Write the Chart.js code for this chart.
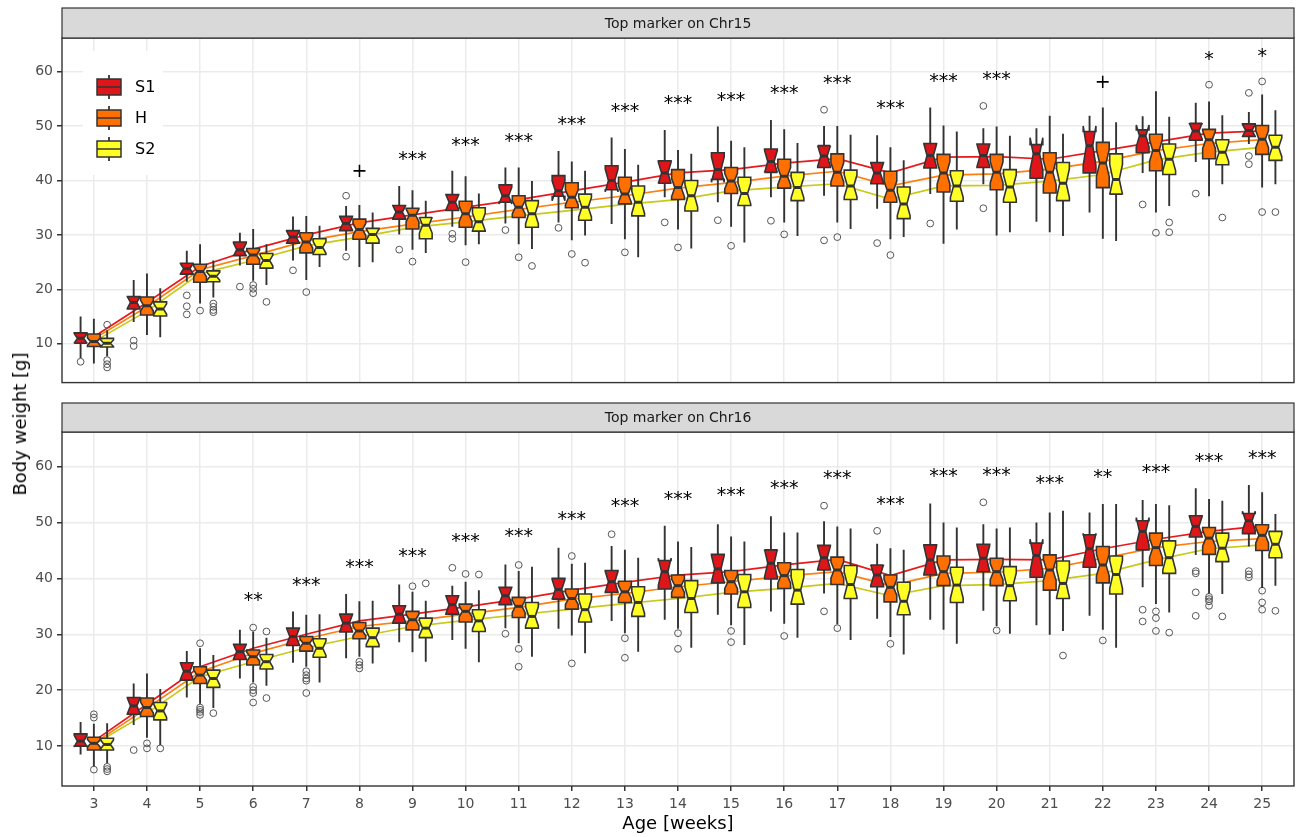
<!DOCTYPE html>
<html>
<head>
<meta charset="utf-8">
<title>Body weight by top marker</title>
<script src="https://cdn.jsdelivr.net/npm/chart.js@4.4.1/dist/chart.umd.min.js"></script>
<style>
  html, body { margin: 0; padding: 0; background: #fff; }
  #wrap { position: relative; width: 1300px; height: 837px; overflow: hidden; }
  canvas { position: absolute; left: 0; }
  #chr15Chart { top: 0; }
  #chr16Chart { top: 395px; }
  .axis-title { position: absolute; font: 18px "DejaVu Sans", sans-serif; line-height: 1; color: #000; white-space: nowrap; }
  #yTitle { left: 20px; top: 424px; transform: translate(-50%, -50%) rotate(-90deg); }
  #xTitle { left: 678px; top: 823px; transform: translate(-50%, -50%); }
</style>
</head>
<body>
<div id="wrap">
  <canvas id="chr15Chart" width="1300" height="395"></canvas>
  <canvas id="chr16Chart" width="1300" height="442"></canvas>
  <div class="axis-title" id="yTitle">Body weight [g]</div>
  <div class="axis-title" id="xTitle">Age [weeks]</div>
</div>
<script>
const weeks = [3, 4, 5, 6, 7, 8, 9, 10, 11, 12, 13, 14, 15, 16, 17, 18, 19, 20, 21, 22, 23, 24, 25];
const yTicks = [10, 20, 30, 40, 50, 60];
const groupNames = ['S1', 'H', 'S2'];

// box stats per week: [lower whisker, Q1, median, Q3, upper whisker]
const chr15S1Box = [
  [7.4, 10.1, 11.0, 12.0, 15.0], [14.0, 16.4, 17.6, 18.7, 21.7], [21.4, 22.8, 23.8, 24.8, 27.1],
  [24.4, 26.2, 27.3, 28.7, 30.4], [25.3, 28.5, 29.6, 30.8, 33.4], [27.1, 30.8, 32.1, 33.4, 35.3],
  [30.1, 32.9, 34.2, 35.4, 39.0], [31.5, 34.5, 36.0, 37.4, 41.8], [32.1, 36.0, 37.2, 39.2, 42.4],
  [32.3, 37.1, 38.1, 40.9, 45.4], [32.0, 38.3, 40.0, 42.7, 47.9], [36.9, 39.5, 41.4, 43.6, 49.3],
  [36.0, 40.2, 42.0, 45.1, 49.9], [36.9, 41.5, 43.5, 45.8, 51.1], [37.2, 42.4, 44.5, 46.4, 50.0],
  [34.8, 39.4, 41.4, 43.3, 48.3], [37.5, 42.3, 44.6, 46.8, 53.4], [39.3, 42.4, 44.6, 46.7, 49.6],
  [32.4, 40.4, 44.9, 46.6, 49.6], [34.1, 41.4, 46.4, 49.0, 51.9], [41.4, 45.1, 48.2, 49.3, 51.8],
  [43.4, 47.4, 49.1, 50.5, 54.3], [46.7, 48.1, 49.2, 50.4, 52.6]
];
const chr15HBox = [
  [6.4, 9.5, 10.4, 11.8, 14.6], [11.6, 15.3, 17.0, 18.6, 22.9], [17.4, 21.3, 23.3, 24.6, 28.3],
  [21.6, 24.6, 26.3, 27.5, 31.1], [21.7, 26.7, 28.7, 30.4, 33.5], [24.1, 29.2, 31.0, 32.9, 35.5],
  [27.3, 31.1, 33.6, 34.9, 38.2], [28.1, 31.4, 33.9, 36.2, 40.8], [28.3, 33.2, 35.1, 37.2, 42.4],
  [29.0, 35.0, 36.9, 39.6, 43.5], [29.2, 35.7, 37.5, 40.6, 45.8], [31.0, 36.5, 38.7, 42.0, 45.6],
  [31.5, 37.6, 39.9, 42.4, 47.3], [32.3, 38.6, 40.8, 43.9, 49.4], [32.3, 39.0, 41.5, 44.9, 50.0],
  [29.2, 36.0, 38.2, 41.7, 46.1], [28.4, 37.9, 41.4, 44.8, 50.1], [29.9, 38.3, 41.5, 44.8, 49.9],
  [30.5, 37.7, 41.5, 45.1, 51.9], [29.3, 38.7, 43.2, 47.0, 53.4], [34.1, 41.8, 45.5, 48.5, 56.4],
  [37.1, 44.0, 47.5, 49.4, 54.5], [38.7, 44.8, 47.6, 50.1, 55.8]
];
const chr15S2Box = [
  [7.7, 9.4, 10.1, 11.0, 12.5], [11.2, 15.1, 16.4, 17.7, 20.2], [18.5, 21.4, 22.4, 23.4, 25.3],
  [20.8, 23.9, 25.3, 26.6, 28.3], [24.1, 26.4, 27.7, 29.3, 31.7], [25.0, 28.5, 30.1, 31.2, 34.1],
  [26.7, 29.3, 31.8, 33.2, 36.3], [28.3, 30.7, 32.4, 35.0, 37.6], [27.4, 31.4, 33.9, 36.3, 39.9],
  [29.9, 32.7, 35.1, 37.5, 41.8], [25.9, 33.5, 36.0, 39.0, 42.9], [27.5, 34.4, 37.2, 40.0, 44.9],
  [28.6, 35.4, 37.6, 40.6, 46.1], [29.8, 36.3, 38.7, 41.5, 46.9], [31.1, 36.5, 39.0, 41.9, 48.4],
  [29.6, 33.0, 35.7, 38.8, 43.7], [31.0, 36.2, 39.0, 41.8, 49.0], [30.5, 36.0, 38.8, 42.0, 48.2],
  [29.8, 36.3, 39.5, 43.3, 48.6], [28.9, 37.5, 40.2, 44.9, 50.7], [35.3, 41.1, 43.9, 46.7, 51.7],
  [39.3, 42.9, 45.2, 47.5, 52.0], [39.3, 43.7, 46.1, 48.3, 52.9]
];
const chr15S1Out = [[6.7], [10.6, 9.6], [18.9, 16.9, 15.4], [20.5], [23.5], [37.2, 26.0], [27.3], [30.2, 29.3], [30.9], [31.3], [], [32.3], [32.7], [32.6], [53.0, 29.0], [28.5], [32.1], [53.7, 34.9], [], [], [35.6], [37.6], [56.1, 44.5, 43.0]];
const chr15HOut = [[], [], [16.1], [20.8, 20.1, 19.3], [19.5], [], [25.1], [25.0], [25.9], [26.5], [26.8], [27.7], [28.0], [30.1], [29.6], [26.3], [], [], [], [], [30.4], [57.6], [58.2, 34.2]];
const chr15S2Out = [[13.5, 7.0, 6.25, 5.65], [], [17.4, 16.8, 16.2, 15.8], [17.7], [], [], [], [], [24.3], [24.9], [], [], [], [], [], [], [], [], [], [], [32.3, 30.5], [33.2], [34.2]];
const chr15S1Mean = [11.3, 17.6, 24.2, 27.4, 30.0, 32.2, 33.7, 35.1, 36.5, 38.1, 39.7, 41.4, 42.0, 43.2, 44.0, 41.4, 44.3, 44.4, 43.9, 45.5, 47.1, 48.7, 49.1];
const chr15HMean = [10.9, 16.8, 23.6, 26.2, 28.9, 30.6, 32.0, 33.3, 34.7, 36.0, 37.2, 38.6, 39.6, 40.8, 41.7, 39.0, 41.0, 41.2, 42.1, 43.5, 45.5, 46.8, 47.5];
const chr15S2Mean = [10.4, 16.0, 22.9, 25.3, 28.0, 29.6, 31.4, 32.4, 33.5, 34.5, 35.6, 36.5, 38.1, 38.8, 39.4, 36.6, 39.0, 39.1, 39.9, 41.1, 43.8, 45.2, 46.1];
const chr15N = [11, 28, 18];
const chr15Marks = ['', '', '', '', '', '+', '***', '***', '***', '***', '***', '***', '***', '***', '***', '***', '***', '***', '', '+', '', '*', '*'];
const chr15MarkY = [null, null, null, null, null, 41.9, 44.8, 47.4, 48.2, 51.2, 53.7, 55.1, 55.6, 56.9, 58.7, 54.2, 59.2, 59.5, null, 58.2, null, 63.2, 63.8];

const chr16S1Box = [
  [8.5, 10.0, 10.9, 12.2, 14.3], [13.8, 15.7, 17.2, 18.7, 21.2], [18.7, 21.8, 23.4, 24.9, 27.0],
  [22.1, 25.5, 26.9, 28.2, 30.8], [24.9, 28.0, 29.6, 31.1, 34.1], [25.7, 30.4, 32.0, 33.6, 37.2],
  [28.6, 32.0, 33.6, 35.1, 38.9], [29.0, 33.6, 35.3, 36.9, 38.7], [31.1, 35.3, 36.9, 38.4, 42.5],
  [31.0, 36.3, 38.0, 40.0, 45.5], [32.4, 37.5, 39.4, 41.4, 45.8], [32.6, 38.1, 41.2, 43.2, 49.4],
  [33.5, 39.2, 41.7, 44.3, 49.7], [34.1, 39.9, 42.7, 45.1, 51.1], [37.3, 41.5, 43.7, 45.9, 50.2],
  [32.8, 38.5, 40.6, 42.4, 46.2], [32.6, 40.6, 43.3, 46.0, 53.4], [34.2, 41.2, 43.6, 46.1, 49.7],
  [31.6, 40.2, 44.1, 46.3, 50.0], [33.3, 42.0, 45.3, 47.8, 51.8], [38.4, 45.1, 48.4, 50.3, 54.0],
  [44.2, 47.4, 49.3, 51.2, 56.1], [45.7, 48.0, 50.3, 51.6, 56.7]
];
const chr16HBox = [
  [6.4, 9.3, 10.5, 11.6, 14.0], [11.5, 15.3, 16.9, 18.6, 23.0], [17.6, 21.2, 22.7, 24.2, 27.5],
  [21.4, 24.5, 26.0, 27.2, 30.5], [24.2, 27.0, 28.4, 29.6, 33.5], [26.0, 29.2, 30.6, 32.1, 35.9],
  [26.8, 30.8, 32.6, 34.1, 37.6], [27.4, 32.2, 34.1, 35.4, 39.4], [28.4, 33.0, 35.0, 36.6, 41.3],
  [29.8, 34.5, 36.4, 38.1, 42.6], [30.2, 35.7, 37.6, 39.5, 45.1], [31.0, 36.6, 38.7, 40.6, 46.6],
  [31.6, 37.2, 39.4, 41.4, 47.5], [31.9, 38.2, 40.5, 42.8, 48.2], [31.8, 38.9, 41.5, 43.8, 49.3],
  [29.5, 35.8, 38.4, 40.6, 45.4], [30.8, 38.7, 41.2, 44.0, 50.0], [31.5, 38.7, 41.2, 43.6, 48.9],
  [29.9, 37.9, 41.5, 44.2, 51.8], [30.8, 39.2, 42.4, 45.7, 53.3], [35.4, 42.3, 45.5, 48.1, 53.3],
  [37.3, 44.3, 47.2, 49.1, 54.2], [38.3, 45.0, 47.7, 49.6, 55.4]
];
const chr16S2Box = [
  [7.0, 9.3, 10.3, 11.4, 14.1], [10.2, 14.7, 16.3, 17.8, 20.2], [16.8, 20.5, 22.1, 23.6, 26.3],
  [20.8, 23.8, 25.1, 26.4, 29.4], [21.4, 25.9, 27.5, 29.2, 33.6], [24.8, 27.8, 29.4, 31.1, 36.0],
  [25.1, 29.4, 31.1, 32.9, 36.0], [25.0, 30.5, 32.4, 34.4, 37.9], [26.0, 31.1, 33.2, 35.7, 42.1],
  [26.6, 32.2, 34.4, 37.2, 42.8], [26.9, 33.2, 35.7, 38.5, 43.7], [27.6, 33.9, 36.4, 39.6, 45.6],
  [28.1, 34.8, 37.6, 40.7, 46.6], [29.4, 35.4, 37.9, 41.6, 48.2], [29.0, 36.4, 38.9, 42.3, 48.9],
  [26.4, 33.5, 35.9, 39.3, 45.1], [28.3, 35.7, 38.8, 42.0, 49.1], [30.1, 36.0, 38.7, 42.1, 49.1],
  [30.6, 36.4, 39.1, 43.1, 52.1], [27.6, 37.2, 40.7, 44.0, 53.3], [33.9, 40.9, 43.7, 46.7, 53.1],
  [37.2, 43.0, 45.4, 48.1, 53.9], [38.7, 43.7, 46.1, 48.4, 51.5]
];
const chr16S1Out = [[], [9.3], [], [], [], [], [], [41.9], [30.1], [], [47.9], [], [], [], [53.0, 34.1], [48.5], [], [53.6], [], [], [34.4, 32.3], [41.3, 40.9, 37.5, 33.3], [41.3, 40.7, 40.2]];
const chr16HOut = [[15.7, 15.1, 5.8], [10.5, 9.6], [28.4, 16.9, 16.5, 16.1, 15.6], [31.2, 20.6, 20.0, 19.5, 17.8], [23.4, 22.7, 22.1, 21.7, 19.5], [25.1, 24.5, 23.9], [38.6], [40.8], [42.4, 27.4, 24.2], [44.0, 24.8], [29.3, 25.8], [30.2, 27.4], [30.6, 28.6], [29.7], [31.1], [28.3], [], [30.7], [], [28.9], [34.1, 32.9, 30.6], [36.7, 36.3, 35.9, 35.1], [37.8, 35.7, 34.4]];
const chr16S2Out = [[6.3, 5.9, 5.5], [9.6], [15.9], [30.5, 18.6], [], [], [39.1], [40.7], [], [], [], [], [], [], [], [], [], [], [26.2], [], [30.3], [33.2], [34.2]];
const chr16S1Mean = [10.9, 17.5, 24.2, 27.5, 30.0, 32.4, 33.6, 34.9, 36.3, 37.9, 39.3, 40.6, 41.2, 42.4, 43.4, 40.5, 43.3, 43.4, 43.3, 45.3, 47.0, 48.4, 49.4];
const chr16HMean = [10.5, 16.8, 23.3, 26.6, 29.2, 31.4, 32.4, 33.6, 34.8, 36.3, 37.3, 38.5, 39.4, 40.4, 41.2, 38.7, 40.9, 41.1, 41.8, 43.6, 45.5, 46.6, 47.1];
const chr16S2Mean = [10.3, 15.9, 22.4, 25.1, 27.6, 29.6, 31.4, 32.5, 33.5, 34.5, 35.5, 36.4, 37.5, 38.2, 39.1, 36.9, 38.7, 38.9, 39.6, 40.9, 43.3, 45.3, 46.0];
const chr16N = [11, 28, 18];
const chr16Marks = ['', '', '', '**', '***', '***', '***', '***', '***', '***', '***', '***', '***', '***', '***', '***', '***', '***', '***', '**', '***', '***', '***'];
const chr16MarkY = [null, null, null, 36.9, 39.7, 42.9, 44.9, 47.6, 48.4, 51.4, 53.7, 55.1, 55.7, 57.0, 58.7, 54.2, 59.1, 59.4, 57.9, 59.0, 59.9, 61.9, 62.3];

// styling
const boxFills = ['#DE1619', '#FF7000', '#FFFF26'];
const lineColors = ['#E8191C', '#FF7F0E', '#C9C918'];
const dodge = [-0.25, 0, 0.25];
const boxHalfWidth = 0.12;
const edgeColor = '#333333';
const fontFamily = '"DejaVu Sans", sans-serif';

const panels = {
  chr15Chart: {
    strip: 'Top marker on Chr15', showLegend: true, showXLabels: false,
    boxes: [chr15S1Box, chr15HBox, chr15S2Box], outliers: [chr15S1Out, chr15HOut, chr15S2Out],
    means: [chr15S1Mean, chr15HMean, chr15S2Mean], n: chr15N, marks: chr15Marks, markY: chr15MarkY
  },
  chr16Chart: {
    strip: 'Top marker on Chr16', showLegend: false, showXLabels: true,
    boxes: [chr16S1Box, chr16HBox, chr16S2Box], outliers: [chr16S1Out, chr16HOut, chr16S2Out],
    means: [chr16S1Mean, chr16HMean, chr16S2Mean], n: chr16N, marks: chr16Marks, markY: chr16MarkY
  }
};

function drawBox(ctx, xs, ys, xc, stats, n, fill) {
  const [lo, q1, med, q3, hi] = stats;
  const notch = 1.58 * (q3 - q1) / Math.sqrt(n);
  const xl = xs.getPixelForValue(xc - boxHalfWidth);
  const xr = xs.getPixelForValue(xc + boxHalfWidth);
  const xm = xs.getPixelForValue(xc);
  const inset = (xr - xl) / 4;
  const py = v => ys.getPixelForValue(v);

  ctx.strokeStyle = edgeColor;
  ctx.lineWidth = 1.9;
  ctx.beginPath();
  ctx.moveTo(xm, py(q3)); ctx.lineTo(xm, py(hi));
  ctx.moveTo(xm, py(q1)); ctx.lineTo(xm, py(lo));
  ctx.stroke();

  ctx.beginPath();
  ctx.moveTo(xl, py(q3));
  ctx.lineTo(xl, py(med + notch));
  ctx.lineTo(xl + inset, py(med));
  ctx.lineTo(xl, py(med - notch));
  ctx.lineTo(xl, py(q1));
  ctx.lineTo(xr, py(q1));
  ctx.lineTo(xr, py(med - notch));
  ctx.lineTo(xr - inset, py(med));
  ctx.lineTo(xr, py(med + notch));
  ctx.lineTo(xr, py(q3));
  ctx.closePath();
  ctx.fillStyle = fill;
  ctx.fill();
  ctx.lineWidth = 1.6;
  ctx.stroke();

  ctx.lineWidth = 3;
  ctx.beginPath();
  ctx.moveTo(xl + inset, py(med));
  ctx.lineTo(xr - inset, py(med));
  ctx.stroke();
}

function drawLegend(ctx) {
  ctx.fillStyle = '#fff';
  ctx.fillRect(83, 51, 80, 124);
  const keyTops = [79, 110, 141];
  keyTops.forEach((top, g) => {
    ctx.strokeStyle = edgeColor;
    ctx.lineWidth = 1.8;
    ctx.beginPath();
    ctx.moveTo(109, top - 4); ctx.lineTo(109, top + 20);
    ctx.stroke();
    ctx.fillStyle = boxFills[g];
    ctx.fillRect(97, top, 24, 16);
    ctx.lineWidth = 1.5;
    ctx.strokeRect(97, top, 24, 16);
    ctx.beginPath();
    ctx.moveTo(97, top + 8); ctx.lineTo(121, top + 8);
    ctx.stroke();
    ctx.fillStyle = '#000';
    ctx.font = '16px ' + fontFamily;
    ctx.textAlign = 'left';
    ctx.textBaseline = 'middle';
    ctx.fillText(groupNames[g], 135, top + 9);
  });
}

const facetPlugin = {
  id: 'facetBoxes',
  afterDraw(chart) {
    const panel = panels[chart.canvas.id];
    const { ctx, chartArea } = chart;
    ctx.save();
    ctx.fillStyle = '#D9D9D9';
    ctx.fillRect(chartArea.left, 8, chartArea.right - chartArea.left, chartArea.top - 8);
    ctx.strokeStyle = edgeColor;
    ctx.lineWidth = 1.2;
    ctx.strokeRect(chartArea.left, 8, chartArea.right - chartArea.left, chartArea.top - 8);
    ctx.fillStyle = '#1A1A1A';
    ctx.font = '14px ' + fontFamily;
    ctx.textAlign = 'center';
    ctx.textBaseline = 'middle';
    ctx.fillText(panel.strip, (chartArea.left + chartArea.right) / 2, (8 + chartArea.top) / 2 + 1);
    ctx.restore();
  },
  afterDatasetsDraw(chart) {
    const panel = panels[chart.canvas.id];
    const { ctx, chartArea } = chart;
    const xs = chart.scales.x, ys = chart.scales.y;
    ctx.save();
    ctx.beginPath();
    ctx.rect(chartArea.left, chartArea.top, chartArea.right - chartArea.left, chartArea.bottom - chartArea.top);
    ctx.clip();
    ctx.lineJoin = 'miter';
    ctx.miterLimit = 3;
    weeks.forEach((w, i) => {
      panel.boxes.forEach((series, g) => {
        drawBox(ctx, xs, ys, w + dodge[g], series[i], panel.n[g], boxFills[g]);
      });
    });
    ctx.fillStyle = '#000';
    ctx.font = '19px ' + fontFamily;
    ctx.textAlign = 'center';
    ctx.textBaseline = 'alphabetic';
    weeks.forEach((w, i) => {
      const txt = panel.marks[i];
      if (!txt) return;
      const lift = txt === '+' ? 0.34 : 0.56;
      ctx.fillText(txt, xs.getPixelForValue(w), ys.getPixelForValue(panel.markY[i]) + lift * 19);
    });
    if (panel.showLegend) drawLegend(ctx);
    ctx.restore();

    ctx.save();
    ctx.strokeStyle = edgeColor;
    ctx.lineWidth = 1.4;
    ctx.strokeRect(chartArea.left, chartArea.top, chartArea.right - chartArea.left, chartArea.bottom - chartArea.top);
    ctx.restore();
  }
};

function makeChart(id) {
  const panel = panels[id];
  const meanSets = panel.means.map((vals, g) => ({
    type: 'scatter',
    label: groupNames[g] + ' mean',
    data: weeks.map((w, i) => ({ x: w, y: vals[i] })),
    showLine: true,
    borderColor: lineColors[g],
    borderWidth: 1.7,
    pointRadius: 0,
    fill: false,
    order: 3
  }));
  const outlierPoints = [];
  panel.outliers.forEach((series, g) => {
    series.forEach((vals, i) => {
      vals.forEach(v => outlierPoints.push({ x: weeks[i] + dodge[g], y: v }));
    });
  });
  const outlierSet = {
    type: 'scatter',
    label: 'outliers',
    data: outlierPoints,
    pointRadius: 3.4,
    pointBorderWidth: 1,
    pointBorderColor: '#555555',
    pointBackgroundColor: 'rgba(255,255,255,0)',
    order: 1
  };

  return new Chart(document.getElementById(id), {
    type: 'scatter',
    data: { datasets: [...meanSets, outlierSet] },
    options: {
      responsive: false,
      animation: false,
      events: [],
      layout: {
        padding: panel.showXLabels
          ? { top: 37, right: 6, bottom: 0, left: 0 }
          : { top: 38, right: 6, bottom: 4, left: 0 }
      },
      plugins: { legend: { display: false }, tooltip: { enabled: false } },
      scales: {
        x: {
          type: 'linear',
          min: 2.4,
          max: 25.6,
          afterBuildTicks: s => { s.ticks = weeks.map(v => ({ value: v })); },
          afterFit: s => { s.height = panel.showXLabels ? 51 : 0; },
          border: { display: false },
          grid: { color: '#EBEBEB', lineWidth: 1.5, drawTicks: panel.showXLabels, tickLength: 5, tickColor: edgeColor },
          ticks: { display: panel.showXLabels, color: '#4D4D4D', padding: 5, font: { size: 14, family: fontFamily } }
        },
        y: {
          min: 2.87,
          max: 66.18,
          afterBuildTicks: s => { s.ticks = yTicks.map(v => ({ value: v })); },
          afterFit: s => { s.width = 62; },
          border: { display: false },
          grid: { color: '#EBEBEB', lineWidth: 1.5, tickLength: 5, tickColor: edgeColor },
          ticks: { color: '#4D4D4D', padding: 4, font: { size: 14, family: fontFamily } }
        }
      }
    },
    plugins: [facetPlugin]
  });
}

makeChart('chr15Chart');
makeChart('chr16Chart');
</script>
</body>
</html>
